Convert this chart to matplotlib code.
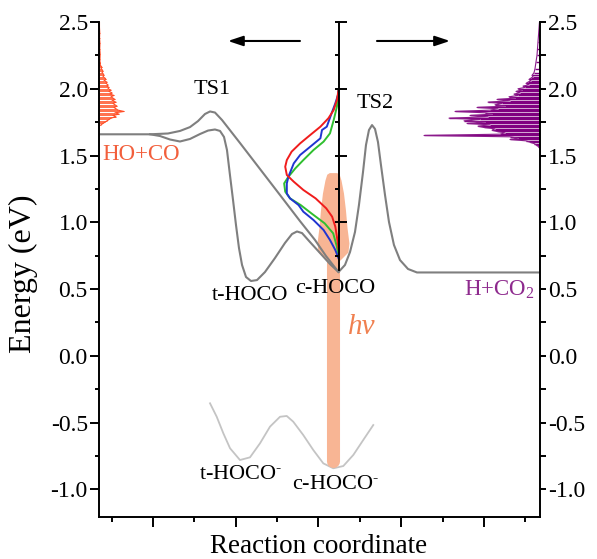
import numpy as np
import matplotlib.pyplot as plt
from matplotlib.ticker import MultipleLocator, FormatStrFormatter

plt.rcParams['font.family'] = ['Liberation Serif', 'DejaVu Serif']
plt.rcParams['axes.unicode_minus'] = False
plt.rcParams['mathtext.fontset'] = 'custom'
plt.rcParams['mathtext.rm'] = 'Liberation Serif'
plt.rcParams['mathtext.it'] = 'Liberation Serif:italic'

# neutral HOCO surface: path over TS1 -> c-HOCO -> TS2 -> H+CO2
upper_x = [0.347, 0.964, 1.181, 1.326, 1.447, 1.544, 1.628, 1.689, 1.749, 1.834,
           2.051, 2.293, 2.535, 2.776, 2.958, 3.091, 3.175, 3.242, 3.320, 3.381,
           3.441, 3.489, 3.538, 3.574, 3.610, 3.647, 3.683, 3.719, 3.755, 3.804,
           3.852, 3.912, 3.985, 4.082, 4.190, 5.680]
upper_E = [1.659, 1.659, 1.665, 1.684, 1.713, 1.758, 1.811, 1.830, 1.822, 1.766,
           1.594, 1.399, 1.204, 1.009, 0.867, 0.747, 0.680, 0.627, 0.680, 0.777,
           0.927, 1.129, 1.376, 1.579, 1.691, 1.728, 1.699, 1.601, 1.429, 1.204,
           1.002, 0.830, 0.717, 0.650, 0.624, 0.624]

# neutral path through t-HOCO
lower_x = [0.964, 1.085, 1.205, 1.326, 1.447, 1.568, 1.665, 1.749, 1.810, 1.858,
           1.894, 1.930, 1.967, 2.003, 2.039, 2.076, 2.124, 2.184, 2.257, 2.353,
           2.474, 2.595, 2.680, 2.740, 2.801, 2.897, 3.018, 3.139, 3.242]
lower_E = [1.659, 1.646, 1.620, 1.605, 1.624, 1.661, 1.687, 1.695, 1.684, 1.639,
           1.541, 1.354, 1.167, 0.979, 0.807, 0.680, 0.590, 0.560, 0.567, 0.627,
           0.732, 0.845, 0.912, 0.931, 0.919, 0.852, 0.770, 0.687, 0.627]

# anion HOCO- surface
anion_x = [1.689, 1.770, 1.850, 1.931, 2.051, 2.172, 2.293, 2.414, 2.535, 2.616,
           2.695, 2.816, 2.937, 3.058, 3.179, 3.300, 3.421, 3.541, 3.662]
anion_E = [-0.356, -0.457, -0.581, -0.693, -0.781, -0.761, -0.656, -0.531, -0.457, -0.451,
           -0.494, -0.594, -0.706, -0.806, -0.843, -0.826, -0.743, -0.631, -0.519]

# energy distributions at c-HOCO (relative population)
red_E = [1.99, 1.916, 1.841, 1.779, 1.716, 1.654, 1.591, 1.529, 1.466, 1.416,
         1.354, 1.304, 1.242, 1.179, 1.104, 1.042, 0.967, 0.892, 0.80]
red_p = [0.0, 0.03, 0.09, 0.19, 0.34, 0.53, 0.72, 0.88, 0.97, 1.0,
         0.97, 0.84, 0.66, 0.43, 0.23, 0.12, 0.06, 0.03, 0.0]
blue_E = [1.99, 1.953, 1.891, 1.816, 1.716, 1.691, 1.629, 1.566, 1.504, 1.441,
          1.341, 1.291, 1.216, 1.179, 1.129, 1.079, 1.017, 0.942, 0.867, 0.792, 0.73]
blue_p = [0.0, 0.01, 0.06, 0.13, 0.22, 0.31, 0.34, 0.53, 0.72, 0.84,
          0.94, 0.97, 0.97, 0.91, 0.75, 0.66, 0.47, 0.28, 0.16, 0.06, 0.0]
green_E = [1.99, 1.953, 1.866, 1.766, 1.666, 1.604, 1.541, 1.466, 1.404, 1.341,
           1.291, 1.229, 1.179, 1.129, 1.067, 0.992, 0.917, 0.817, 0.742]
green_p = [0.0, 0.01, 0.03, 0.09, 0.16, 0.28, 0.47, 0.66, 0.81, 0.94,
           1.02, 1.0, 0.91, 0.71, 0.51, 0.26, 0.10, 0.03, 0.0]

# HO+CO product energy histogram (counts)
hoco_E = [2.50, 2.46, 2.42, 2.38, 2.34, 2.30, 2.26, 2.22,
          2.20, 2.19, 2.18, 2.17, 2.16, 2.15, 2.14, 2.13, 2.12, 2.11,
          2.10, 2.09, 2.08, 2.07, 2.06, 2.05, 2.04, 2.03, 2.02, 2.01,
          2.00, 1.99, 1.98, 1.97, 1.96, 1.95, 1.94, 1.93, 1.92, 1.91,
          1.90, 1.89, 1.88, 1.87, 1.86, 1.85, 1.84, 1.83, 1.82, 1.81,
          1.80, 1.79, 1.78, 1.77, 1.76, 1.75, 1.74, 1.73]
hoco_n = [0.5, 0.5, 0.8, 0.6, 1.0, 0.8, 1.2, 1.0,
          1.0, 1.5, 1.2, 2.0, 3.0, 2.0, 3.5, 4.0, 3.0, 4.5,
          5.0, 4.0, 6.0, 7.0, 5.0, 8.0, 7.0, 9.0, 8.0, 10.0,
          9.0, 12.0, 10.0, 13.0, 11.0, 15.0, 12.0, 14.0, 16.0, 13.0,
          17.0, 14.0, 16.0, 18.0, 15.0, 17.0, 19.0, 25.0, 16.0, 20.0,
          14.0, 17.0, 12.0, 10.0, 8.0, 6.0, 4.0, 2.0]

# H+CO2 product energy histogram (counts)
hco2_E = [2.50, 2.45, 2.40, 2.35, 2.30, 2.25, 2.20, 2.15, 2.12,
          2.10, 2.09, 2.08, 2.07, 2.06, 2.05, 2.04, 2.03, 2.02, 2.01,
          2.00, 1.99, 1.98, 1.97, 1.96, 1.95, 1.94, 1.93, 1.92, 1.91,
          1.90, 1.89, 1.88, 1.87, 1.86, 1.85, 1.84, 1.83, 1.82, 1.81,
          1.80, 1.79, 1.78, 1.77, 1.76, 1.75, 1.74, 1.73, 1.72, 1.71,
          1.70, 1.69, 1.68, 1.67, 1.66, 1.65, 1.64, 1.63, 1.62, 1.61,
          1.60, 1.59, 1.58, 1.57, 1.56]
hco2_n = [0.5, 1.0, 1.5, 2.0, 2.5, 3.0, 4.0, 5.0, 6.0,
          8.0, 7.0, 9.0, 11.0, 9.0, 12.0, 14.0, 11.0, 17.0, 15.0,
          22.0, 18.0, 24.0, 20.0, 26.0, 22.0, 31.0, 25.0, 43.0, 30.0,
          52.0, 38.0, 45.0, 35.0, 63.0, 42.0, 50.0, 85.0, 55.0, 48.0,
          70.0, 52.0, 91.0, 60.0, 76.0, 55.0, 73.0, 50.0, 62.0, 56.0,
          45.0, 48.0, 43.0, 35.0, 40.0, 116.0, 30.0, 22.0, 30.0, 14.0,
          10.0, 6.0, 4.0, 2.0, 1.0]

# photodetachment band (hv) at c-HOCO-
band_E = [1.372, 1.36, 1.316, 1.219, 1.092, 0.964, 0.845, 0.777, 0.717]
band_w = [0.045, 0.075, 0.097, 0.127, 0.151, 0.169, 0.193, 0.181, 0.085]
hv_x = 3.175
hv_top = 0.75
hv_bottom = -0.79

x_left, x_right = 0.347, 5.677
x_mid = 3.242
px_per_unit = 82.75

orange = '#F8B594'

fig = plt.figure(figsize=(5.97, 5.59), dpi=100)
ax = fig.add_axes([0.1658, 0.0751, 0.7387, 0.8855])
ax.set_xlim(x_left, x_right)
ax.set_ylim(-1.208, 2.5)

# hv band
bw = np.array(band_w)
ax.fill_betweenx(band_E, hv_x - bw, hv_x + bw, color=orange, lw=0, zorder=1.5)
ax.plot([hv_x, hv_x], [hv_top, hv_bottom], color=orange, lw=9.4,
        solid_capstyle='round', zorder=1.5)

# potential curves
ax.plot(anion_x, anion_E, color='#c4c4c4', lw=1.3, zorder=1)
ax.plot(upper_x, upper_E, color='#7f7f7f', lw=1.5, zorder=2)
ax.plot(lower_x, lower_E, color='#7f7f7f', lw=1.5, zorder=2)

# energy distributions, drawn leftward from the middle axis
scale = 53.3 / px_per_unit
for E, p, c in [(green_E, green_p, '#2fbf2f'), (blue_E, blue_p, '#2035d0'),
                (red_E, red_p, '#f01c1c')]:
    ax.plot(x_mid - scale * np.array(p), E, color=c, lw=1.4, zorder=3)

# product histograms
hn = np.array(hoco_n) / px_per_unit
ax.hlines(hoco_E, x_left, x_left + hn, color='#ff5a30', lw=0.6, zorder=2)
ax.plot(x_left + hn, hoco_E, color='#ff4d26', lw=0.8, zorder=2)
pn = np.array(hco2_n) / px_per_unit
ax.hlines(hco2_E, x_right - pn, x_right, color='#800080', lw=1.0, zorder=2)
ax.plot(x_right - pn, hco2_E, color='#8b1a8b', lw=0.8, zorder=2)

# middle axis
mid = ax.inset_axes([x_mid, 0.64, 0.05, 2.5 - 0.64], transform=ax.transData)
mid.set_ylim(0.64, 2.5)
mid.patch.set_visible(False)
for s in ['top', 'right', 'bottom']:
    mid.spines[s].set_visible(False)
mid.spines['left'].set_linewidth(1.4)
mid.set_xticks([])
mid.yaxis.set_major_locator(MultipleLocator(0.5))
mid.yaxis.set_minor_locator(MultipleLocator(0.25))
mid.yaxis.remove_overlapping_locs = False
mid.tick_params(axis='y', which='major', direction='in', length=5.8, width=1.4, labelleft=False)
mid.tick_params(axis='y', which='minor', direction='out', length=3, width=1.4)

# axes styling
ax.spines['top'].set_visible(False)
ax.spines['right'].set_visible(False)
for s in ['left', 'bottom']:
    ax.spines[s].set_linewidth(1.4)
ax.xaxis.set_major_locator(MultipleLocator(1))
ax.xaxis.set_minor_locator(MultipleLocator(0.5))
ax.tick_params(axis='x', which='major', direction='out', length=7, width=1.4, labelbottom=False)
ax.tick_params(axis='x', which='minor', direction='out', length=3.6, width=1.4)
ax.yaxis.set_major_locator(MultipleLocator(0.5))
ax.yaxis.set_minor_locator(MultipleLocator(0.25))
ax.yaxis.set_major_formatter(FormatStrFormatter('%.1f'))
ax.tick_params(axis='y', which='major', direction='out', length=6.5, width=1.4,
               labelsize=17, pad=1.5)
ax.tick_params(axis='y', which='minor', direction='out', length=3, width=1.4)

axr = ax.twinx()
axr.set_ylim(ax.get_ylim())
for s in ['top', 'left', 'bottom']:
    axr.spines[s].set_visible(False)
axr.spines['right'].set_linewidth(1.4)
axr.yaxis.set_major_locator(MultipleLocator(0.5))
axr.yaxis.set_minor_locator(MultipleLocator(0.25))
axr.yaxis.set_major_formatter(FormatStrFormatter('%.1f'))
axr.tick_params(axis='y', which='both', direction='out', length=4.3, width=1.4,
                labelsize=17, pad=1.5)

ax.set_ylabel('Energy (eV)', fontsize=23, va='center')
ax.yaxis.set_label_coords(-0.172, 0.491)
ax.set_xlabel('Reaction coordinate', fontsize=19.5, va='baseline')
ax.xaxis.set_label_coords(0.497, -0.072)

# labels
ax.text(1.719, 1.994, 'TS1', fontsize=16, ha='center', va='center')
ax.text(3.689, 1.890, 'TS2', fontsize=16, ha='center', va='center')
ax.text(0.384, 1.504, 'HO+CO', fontsize=16.5, color='#f25f3c', ha='left', va='center')
ax.text(5.616, 0.496, 'H+CO$_\\mathregular{2}$', fontsize=16.5, color='#8e2a8e',
        ha='right', va='center')
ax.text(2.172, 0.448, 't-HOCO', fontsize=16, ha='center', va='center')
ax.text(3.205, 0.507, 'c-HOCO', fontsize=16, ha='center', va='center', zorder=4)
ax.text(3.526, 0.215, 'h\u03bd', fontsize=21, style='italic', color='#f08050',
        ha='center', va='center')
ax.text(2.063, -0.893, 't-HOCO$^\\text{-}$', fontsize=16, ha='center', va='center')
ax.text(3.211, -0.961, 'c-HOCO$^\\text{-}$', fontsize=16, ha='center', va='center')

arrow = dict(arrowstyle='-|>,head_length=0.9,head_width=0.3', color='k', lw=1.5,
             shrinkA=0, shrinkB=0, mutation_scale=10)
ax.annotate('', xy=(1.906, 2.358), xytext=(2.776, 2.358), arrowprops=arrow)
ax.annotate('', xy=(4.589, 2.358), xytext=(3.707, 2.358), arrowprops=arrow)

fig.savefig('out.png', dpi=100)
